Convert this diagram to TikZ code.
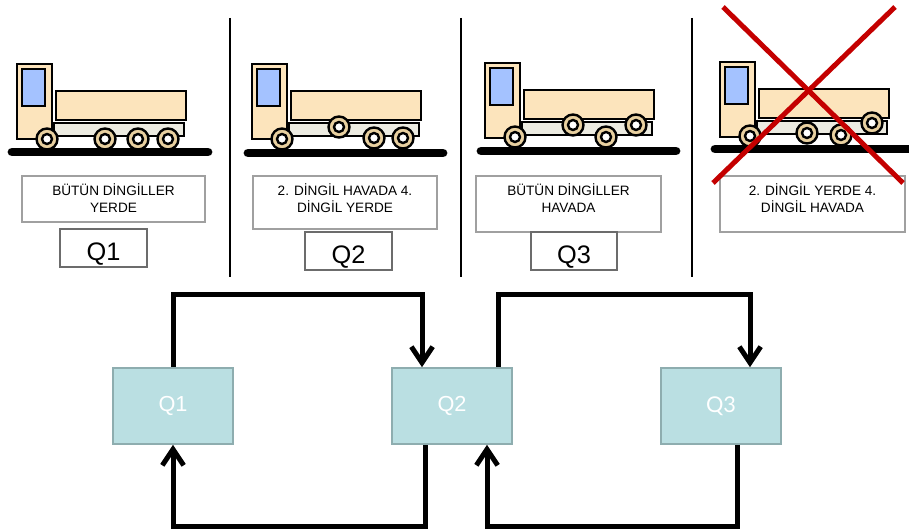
\documentclass[tikz,border=0pt]{standalone}
\usepackage{fontspec}
\setmainfont{Liberation Sans}
\newfontfamily\humanist{Lato}
\usetikzlibrary{arrows.meta,calc,fit}

\definecolor{cargo}{RGB}{252,228,188}
\definecolor{tyre}{RGB}{232,208,160}
\definecolor{glass}{RGB}{164,194,255}
\definecolor{frame}{RGB}{236,235,225}
\definecolor{boxline}{RGB}{160,160,160}
\definecolor{statefill}{RGB}{186,223,226}
\definecolor{stateline}{RGB}{142,173,175}
\definecolor{crossred}{RGB}{196,0,0}

\tikzset{
  truckline/.style={line width=1.9pt, draw=black},
  lorry/.pic={
    \draw[truckline, fill=frame] (37,59) rectangle (167,72);
    \draw[truckline, fill=cargo] (39,27) rectangle (169,56);
    \draw[truckline, fill=cargo] (0,0) rectangle (35,75);
    \draw[truckline, fill=glass] (5,5) rectangle (28,42);
  },
  wheel/.pic={
    \draw[line width=1.8pt, fill=tyre] (0,0) circle[radius=10.5];
    \draw[line width=1.8pt, fill=white] (0,0) circle[radius=5];
  },
  ground/.style={line width=6.6pt, line cap=round},
  divider/.style={line width=2.2pt},
  infobox/.style={draw=boxline, line width=0.8pt, inner sep=0pt},
  infotext/.style={anchor=north, inner sep=0pt, align=center,
    font=\fontsize{10.2}{12.75}\selectfont},
  tagbox/.style={draw=gray!85!black, line width=0.8pt, inner sep=0pt},
  tagtext/.style={anchor=base, inner sep=0pt, font=\fontsize{19}{22}\selectfont},
  state/.style={draw=stateline, line width=1.2pt, fill=statefill,
    minimum width=90pt, minimum height=57pt, inner sep=0pt,
    text=white, font=\fontsize{16.3}{18}\selectfont},
  flow/.style={line width=3.75pt, line join=miter,
    -{Straight Barb[length=12pt,width=16pt]}},
  cross/.style={draw=crossred, line width=3.75pt}
}

\begin{document}
\begin{tikzpicture}[x=0.75pt,y=-0.75pt]
\useasboundingbox (0,0) rectangle (909,530);

% panel dividers
\draw[divider] (230,18) -- (230,277);
\draw[divider] (461,18) -- (461,277);
\draw[divider] (692,18) -- (692,277);

% panel 1: all axles on the ground
\draw[ground] (12,152) -- (208,152);
\pic at (17,64) {lorry};
\pic at (47,139) {wheel};
\pic at (105,139) {wheel};
\pic at (138,139) {wheel};
\pic at (168,139) {wheel};

% panel 2: second axle lifted
\draw[ground] (248,153) -- (443,153);
\pic at (252,64) {lorry};
\pic at (282,139) {wheel};
\pic at (339,127) {wheel};
\pic at (374,138) {wheel};
\pic at (403,138) {wheel};

% panel 3: second and fourth axles lifted
\draw[ground] (481,151) -- (676,151);
\pic at (485,63) {lorry};
\pic at (515,137) {wheel};
\pic at (573,125) {wheel};
\pic at (606,137) {wheel};
\pic at (636,125) {wheel};

% panel 4: fourth axle lifted
\draw[ground] (715,149) -- (912,149);
\pic at (720,62) {lorry};
\pic at (750,136) {wheel};
\pic at (807,133) {wheel};
\pic at (841,135) {wheel};
\pic at (872,123) {wheel};

% captions
\node[infobox, fit={(22,176) (205,222)}] (b1) {};
\node[infotext] (b1t) at ($(b1.north)+(0,8)$) {BÜTÜN DİNGİLLER\\YERDE};
\node[infobox, fit={(253,176) (437,229)}] (b2) {};
\node[infotext] (b2t) at ($(b2.north)+(0,8)$) {2. DİNGİL HAVADA 4.\\DİNGİL YERDE};
\node[infobox, fit={(476,176) (661,232)}] (b3) {};
\node[infotext] (b3t) at ($(b3.north)+(0,8)$) {BÜTÜN DİNGİLLER\\HAVADA};
\node[infobox, fit={(720,176) (905,232)}] (b4) {};
\node[infotext] (b4t) at ($(b4.north)+(0,8)$) {2. DİNGİL YERDE 4.\\DİNGİL HAVADA};

% state tags
\node[tagbox, fit={(60,229) (147,267)}] (t1) {};
\node[tagtext] (t1t) at ($(t1.south)+(0,-7)$) {Q1};
\node[tagbox, fit={(305,232) (392,270)}] (t2) {};
\node[tagtext] (t2t) at ($(t2.south)+(0,-7)$) {Q2};
\node[tagbox, fit={(531,232) (617,270)}] (t3) {};
\node[tagtext] (t3t) at ($(t3.south)+(0,-7)$) {Q3};

% the excluded configuration
\draw[cross] (723,7) -- (903,183);
\draw[cross] (895,7) -- (713,183);

% state diagram
\node[state] (q1) at (173,406) {Q1};
\node[state] (q2) at (452,406) {Q2};
\node[state] (q3) at (721,406) {{\humanist Q3}};

\draw[flow] (q1.north) -- ++(0,-73) -| ($(q2.north)+(-30,0)$);
\draw[flow] ($(q2.north)+(46,0)$) -- ++(0,-73) -| ($(q3.north)+(29,0)$);
\draw[flow] ($(q2.south)+(-27,0)$) -- ++(0,82) -| (q1.south);
\draw[flow] ($(q3.south)+(16,0)$) -- ++(0,82) -| ($(q2.south)+(35,0)$);
\end{tikzpicture}
\end{document}
